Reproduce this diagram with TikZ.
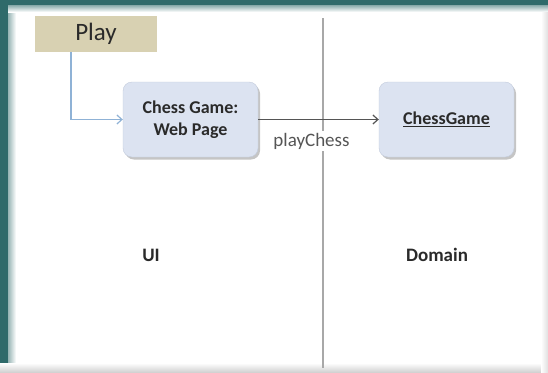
\documentclass[tikz,border=0pt]{standalone}
\usepackage{fontspec}
\setmainfont{Carlito}
\usetikzlibrary{arrows.meta,shadows}
\definecolor{frameteal}{HTML}{2F6A6A}
\definecolor{playtan}{HTML}{D8D1B2}
\definecolor{boxblue}{HTML}{DCE3F1}
\definecolor{boxedge}{HTML}{C3CCDD}
\definecolor{linkblue}{HTML}{8FB2D6}
\definecolor{divider}{HTML}{A8A8A8}
\definecolor{msgline}{HTML}{555555}
\definecolor{textdark}{HTML}{2A2A2A}
\tikzset{
  x=1pt, y=-1pt,
  actor/.style={fill=playtan, draw=none, minimum width=122pt, minimum height=36pt,
    font=\fontsize{25}{27}\selectfont, text=textdark, inner sep=0pt},
  objbox/.style={fill=boxblue, draw=boxedge, rounded corners=9pt,
    minimum width=135pt, minimum height=75pt, align=center,
    font=\bfseries\fontsize{18}{22}\selectfont, text=textdark,
    drop shadow={shadow xshift=2pt, shadow yshift=-2.5pt, opacity=0.45, fill=gray}},
  lanelabel/.style={font=\bfseries\fontsize{19}{21}\selectfont, text=textdark},
  msglabel/.style={font=\fontsize{19}{21}\selectfont, text=msgline, fill=white, inner sep=1.5pt},
}
\begin{document}
\begin{tikzpicture}
  \useasboundingbox (0,0) rectangle (548,372);
  % page background and frame
  \fill[white] (0,0) rectangle (548,372);
  \shade[left color=frameteal, right color=white] (0,0) rectangle (16,372);
  \shade[top color=frameteal, bottom color=white] (0,0) rectangle (548,12);
  \fill[frameteal] (0,0) rectangle (8,372);
  \fill[frameteal] (0,0) rectangle (548,5);
  \shade[top color=white, bottom color=gray!35] (0,363) rectangle (548,372);
  \shade[left color=white, right color=gray!25] (541,12) rectangle (548,372);

  % swimlane divider
  \coordinate (divtop) at (323,18);
  \coordinate (divbot) at (323,368);
  \draw[divider, line width=1.2pt] (divtop) -- (divbot);

  % nodes
  \node[actor] (play) at (96,34) {Play};
  \node[objbox] (web) at (190.5,119.5) {Chess Game:\\Web Page};
  \node[objbox] (game) at (446.5,119.5) {\underline{ChessGame}};

  % connectors
  \draw[linkblue, line width=1.2pt, -{Straight Barb[length=5pt,width=9pt]}]
    (play.south -| 71,0) |- (web.west);
  \draw[msgline, line width=1.2pt, -{Straight Barb[length=5pt,width=9pt]}]
    (web.east) -- (game.west);
  \node[msglabel] (msg) at (311.5,141) {playChess};

  % lane labels
  \node[lanelabel] (ui) at (151,255) {UI};
  \node[lanelabel] (dom) at (437,255) {Domain};
\end{tikzpicture}
\end{document}
